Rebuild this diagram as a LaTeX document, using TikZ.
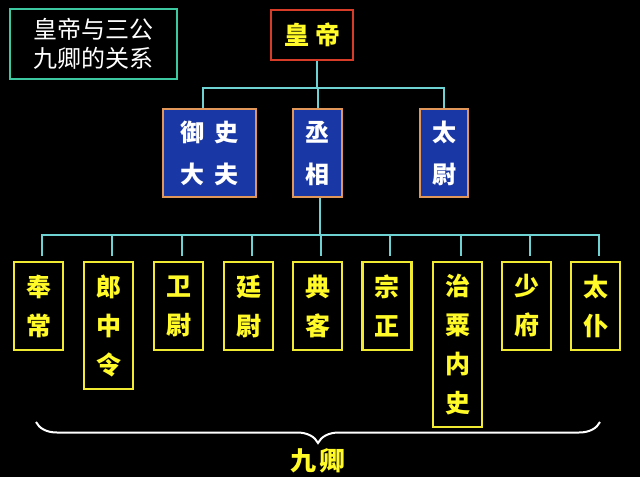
\documentclass[tikz,border=0pt]{standalone}
\usepackage{fontspec}
\newfontfamily\cjk{Noto Sans CJK SC}
\usetikzlibrary{decorations.pathreplacing}
\definecolor{connc}{RGB}{110,210,210}
\definecolor{titlec}{RGB}{60,200,160}
\definecolor{redc}{RGB}{215,60,40}
\definecolor{bluec}{RGB}{25,55,165}
\definecolor{orangec}{RGB}{225,150,90}
\definecolor{yelc}{RGB}{240,235,50}
\definecolor{yeltext}{RGB}{255,250,40}
\tikzset{
  conn/.style={draw=connc, line width=2pt},
  titlebox/.style={draw=titlec, line width=2.5pt, fill=black, text=white, inner sep=0pt,
    font=\cjk\fontsize{24}{29}\selectfont, align=center},
  emperorbox/.style={draw=redc, line width=2.5pt, fill=black, text=yeltext, inner sep=0pt,
    font=\cjk\bfseries\fontsize{25}{30}\selectfont},
  gongbox/.style={draw=orangec, line width=2.5pt, fill=bluec, text=white, inner sep=0pt,
    font=\cjk\bfseries\fontsize{24}{42}\selectfont, align=center, minimum height=88pt},
  qingbox/.style={draw=yelc, line width=2.2pt, fill=black, text=yeltext, inner sep=0pt,
    font=\cjk\bfseries\fontsize{25}{39}\selectfont, align=center, minimum width=49pt},
}
\begin{document}
\begin{tikzpicture}[x=1pt,y=-1pt]
\fill[black] (0,0) rectangle (640,477);
\useasboundingbox (0,0) rectangle (640,477);

% title
\node[titlebox, minimum width=167pt, minimum height=70pt] (title) at (93.5,44) {皇帝与三公\\九卿的关系};

% emperor
\node[emperorbox, minimum width=82pt, minimum height=50pt] (hd) at (312,35) {皇\hspace{6pt}帝};

% three gong
\node[gongbox, minimum width=93pt] (ys) at (209.5,153) {御\hspace{10pt}史\\大\hspace{10pt}夫};
\node[gongbox, minimum width=49pt] (cx) at (317.5,153) {丞\\相};
\node[gongbox, minimum width=48pt] (tw) at (444,153) {太\\尉};

% nine qing
\node[qingbox, minimum height=88pt]  (q1) at (38.7,306)   {奉\\常};
\node[qingbox, minimum height=127pt] (q2) at (108.5,325.5) {郎\\中\\令};
\node[qingbox, minimum height=88pt]  (q3) at (178.5,306)  {卫\\尉};
\node[qingbox, minimum height=88pt]  (q4) at (248.5,306)  {廷\\尉};
\node[qingbox, minimum height=88pt]  (q5) at (317.5,306)  {典\\客};
\node[qingbox, minimum height=88pt]  (q6) at (387,306)    {宗\\正};
\node[qingbox, minimum height=165pt] (q7) at (457.5,344.5) {治\\粟\\内\\史};
\node[qingbox, minimum height=88pt]  (q8) at (526.5,306)  {少\\府};
\node[qingbox, minimum height=88pt]  (q9) at (595.5,306)  {太\\仆};

% connectors: emperor to three gong
\coordinate (bar1) at (0,88);
\draw[conn] ([xshift=5pt]hd.south) -- ([xshift=5pt]hd.south |- bar1);
\draw[conn] ([xshift=-6.5pt]ys.north) -- ([xshift=-6.5pt]ys.north |- bar1)
  -- (tw.north |- bar1) -- (tw.north);
\draw[conn] (cx.north |- bar1) -- (cx.north);

% connectors: chancellor to nine qing
\coordinate (bar2) at (0,235);
\coordinate (drop) at (0,256);
\draw[conn] ([xshift=2.5pt]cx.south) -- ([xshift=2.5pt]cx.south |- bar2);
\draw[conn] ([xshift=3pt]q1.north |- drop) -- ([xshift=3pt]q1.north |- bar2)
  -- ([xshift=3pt]q9.north |- bar2) -- ([xshift=3pt]q9.north |- drop);
\foreach \q in {q2,q3,q4,q5,q6,q7,q8}
  \draw[conn] ([xshift=3pt]\q.north |- bar2) -- ([xshift=3pt]\q.north |- drop);

% brace
\coordinate (bl) at (36,422);
\coordinate (br) at (600,422);
\draw[white, line width=2pt, decorate, decoration={brace, mirror, amplitude=21pt, aspect=0.5}]
  (bl) -- (br);
\node[text=yeltext, font=\cjk\bfseries\fontsize{26}{30}\selectfont] (jq) at (318,461) {九\hspace{4pt}卿};
\end{tikzpicture}
\end{document}
